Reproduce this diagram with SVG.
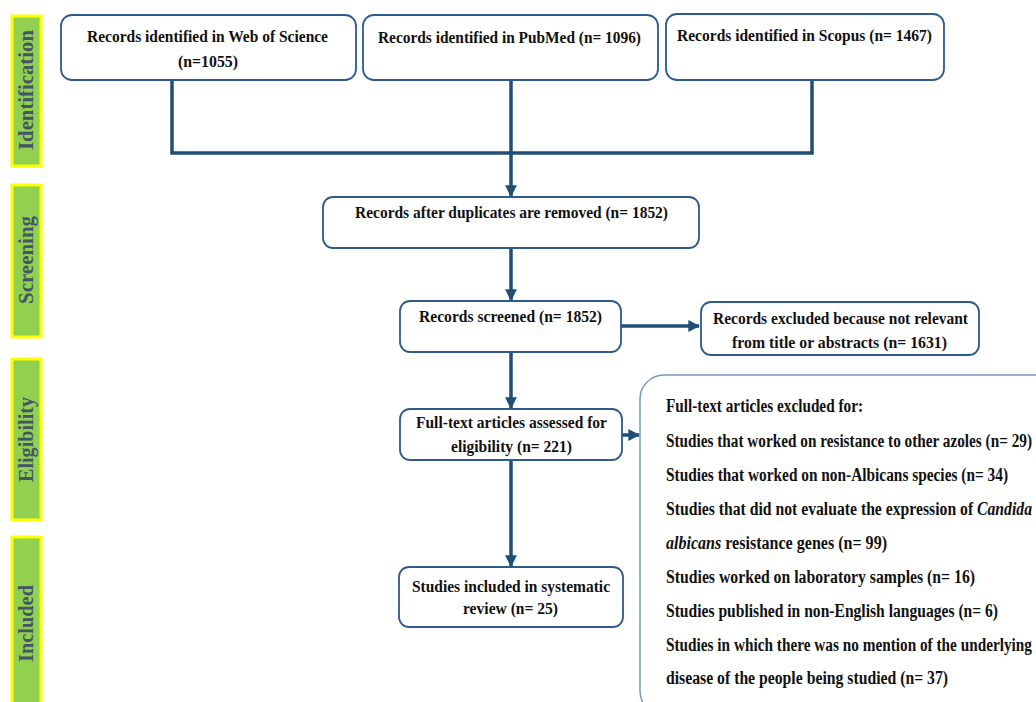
<svg xmlns="http://www.w3.org/2000/svg" width="1036" height="702" viewBox="0 0 1036 702">
<defs>
<style>
.bar{fill:#92D050;stroke:#FFFF00;stroke-width:3}
.bt{font-family:"Liberation Serif","Times New Roman",serif;font-weight:bold;font-size:20px;fill:#44546A}
.box{fill:#fff;stroke:#2E5A8E;stroke-width:1.8}
.t{font-family:"Liberation Serif","Times New Roman",serif;font-weight:bold;font-size:17.5px;fill:#111}
.x{font-family:"Liberation Serif","Times New Roman",serif;font-weight:bold;font-size:18px;fill:#111}
.ln{fill:none;stroke:#1F4E79;stroke-width:3.5}
</style>
<marker id="ah" viewBox="0 0 10 10" refX="9" refY="5" markerWidth="3.4" markerHeight="3.4" orient="auto" markerUnits="strokeWidth">
<path d="M0,0 L10,5 L0,10 z" fill="#1F4E79"/>
</marker>
</defs>
<rect width="1036" height="702" fill="#fff"/>

<g id="phase-identification">
<rect class="bar" x="12" y="16" width="29" height="150"/>
<text class="bt" transform="translate(33,150) rotate(-90)" textLength="120" lengthAdjust="spacingAndGlyphs">Identification</text>
</g>
<g id="phase-screening">
<rect class="bar" x="12" y="185" width="29" height="152"/>
<text class="bt" transform="translate(33,304) rotate(-90)" textLength="88" lengthAdjust="spacingAndGlyphs">Screening</text>
</g>
<g id="phase-eligibility">
<rect class="bar" x="12" y="359" width="29" height="161"/>
<text class="bt" transform="translate(33,482) rotate(-90)" textLength="85" lengthAdjust="spacingAndGlyphs">Eligibility</text>
</g>
<g id="phase-included">
<rect class="bar" x="12" y="537" width="29" height="175"/>
<text class="bt" transform="translate(33,662) rotate(-90)" textLength="77" lengthAdjust="spacingAndGlyphs">Included</text>
</g>

<g id="connectors">
<polyline class="ln" points="172,80 172,153 812,153 812,80"/>
<line class="ln" x1="511" y1="80" x2="511" y2="196" marker-end="url(#ah)"/>
<line class="ln" x1="511" y1="248" x2="511" y2="300" marker-end="url(#ah)"/>
<line class="ln" x1="621" y1="326" x2="699" y2="326" marker-end="url(#ah)"/>
<line class="ln" x1="511" y1="352" x2="511" y2="408" marker-end="url(#ah)"/>
<line class="ln" x1="622" y1="435" x2="639" y2="435" marker-end="url(#ah)"/>
<line class="ln" x1="511" y1="460" x2="511" y2="566" marker-end="url(#ah)"/>
</g>

<g id="node-wos">
<rect class="box" x="61" y="15" width="295" height="65" rx="11"/>
<text class="t" x="87" y="42" textLength="241" lengthAdjust="spacingAndGlyphs">Records identified in Web of Science</text>
<text class="t" x="178" y="67" textLength="60" lengthAdjust="spacingAndGlyphs">(n=1055)</text>
</g>
<g id="node-pubmed">
<rect class="box" x="363" y="15" width="295" height="65" rx="11"/>
<text class="t" x="378" y="43" textLength="263" lengthAdjust="spacingAndGlyphs">Records identified in PubMed (n= 1096)</text>
</g>
<g id="node-scopus">
<rect class="box" x="666" y="14" width="278" height="66" rx="11"/>
<text class="t" x="677" y="41" textLength="255" lengthAdjust="spacingAndGlyphs">Records identified in Scopus (n= 1467)</text>
</g>
<g id="node-duplicates">
<rect class="box" x="323" y="197" width="376" height="51" rx="10"/>
<text class="t" x="355" y="218" textLength="313" lengthAdjust="spacingAndGlyphs">Records after duplicates are removed (n= 1852)</text>
</g>
<g id="node-screened">
<rect class="box" x="400" y="301" width="221" height="51" rx="10"/>
<text class="t" x="419" y="322" textLength="183" lengthAdjust="spacingAndGlyphs">Records screened (n= 1852)</text>
</g>
<g id="node-excluded">
<rect class="box" x="701" y="302" width="278" height="53" rx="10"/>
<text class="t" x="713" y="324" textLength="255" lengthAdjust="spacingAndGlyphs">Records excluded because not relevant</text>
<text class="t" x="732" y="348" textLength="215" lengthAdjust="spacingAndGlyphs">from title or abstracts (n= 1631)</text>
</g>
<g id="node-fulltext">
<rect class="box" x="400" y="409" width="222" height="51" rx="10"/>
<text class="t" x="416" y="428" textLength="191" lengthAdjust="spacingAndGlyphs">Full-text articles assessed for</text>
<text class="t" x="451" y="452" textLength="121" lengthAdjust="spacingAndGlyphs">eligibility (n= 221)</text>
</g>
<g id="node-included">
<rect class="box" x="399" y="567" width="224" height="60" rx="10"/>
<text class="t" x="412" y="592" textLength="198" lengthAdjust="spacingAndGlyphs">Studies included in systematic</text>
<text class="t" x="463" y="614" textLength="95" lengthAdjust="spacingAndGlyphs">review (n= 25)</text>
</g>
<g id="node-fulltext-excluded">
<rect x="640" y="375" width="420" height="340" rx="24" fill="#fff" stroke="#7C98BC" stroke-width="1.5"/>
<text class="x" x="666" y="412" textLength="197" lengthAdjust="spacingAndGlyphs">Full-text articles excluded for:</text>
<text class="x" x="666" y="447" textLength="366" lengthAdjust="spacingAndGlyphs">Studies that worked on resistance to other azoles (n= 29)</text>
<text class="x" x="666" y="481" textLength="342" lengthAdjust="spacingAndGlyphs">Studies that worked on non-Albicans species (n= 34)</text>
<text class="x" x="666" y="515" textLength="366" lengthAdjust="spacingAndGlyphs">Studies that did not evaluate the expression of <tspan font-style="italic">Candida</tspan></text>
<text class="x" x="666" y="549" textLength="221" lengthAdjust="spacingAndGlyphs"><tspan font-style="italic">albicans</tspan> resistance genes (n= 99)</text>
<text class="x" x="666" y="583" textLength="309" lengthAdjust="spacingAndGlyphs">Studies worked on laboratory samples (n= 16)</text>
<text class="x" x="666" y="617" textLength="332" lengthAdjust="spacingAndGlyphs">Studies published in non-English languages (n= 6)</text>
<text class="x" x="666" y="651" textLength="366" lengthAdjust="spacingAndGlyphs">Studies in which there was no mention of the underlying</text>
<text class="x" x="666" y="684" textLength="282" lengthAdjust="spacingAndGlyphs">disease of the people being studied (n= 37)</text>
</g>
</svg>
